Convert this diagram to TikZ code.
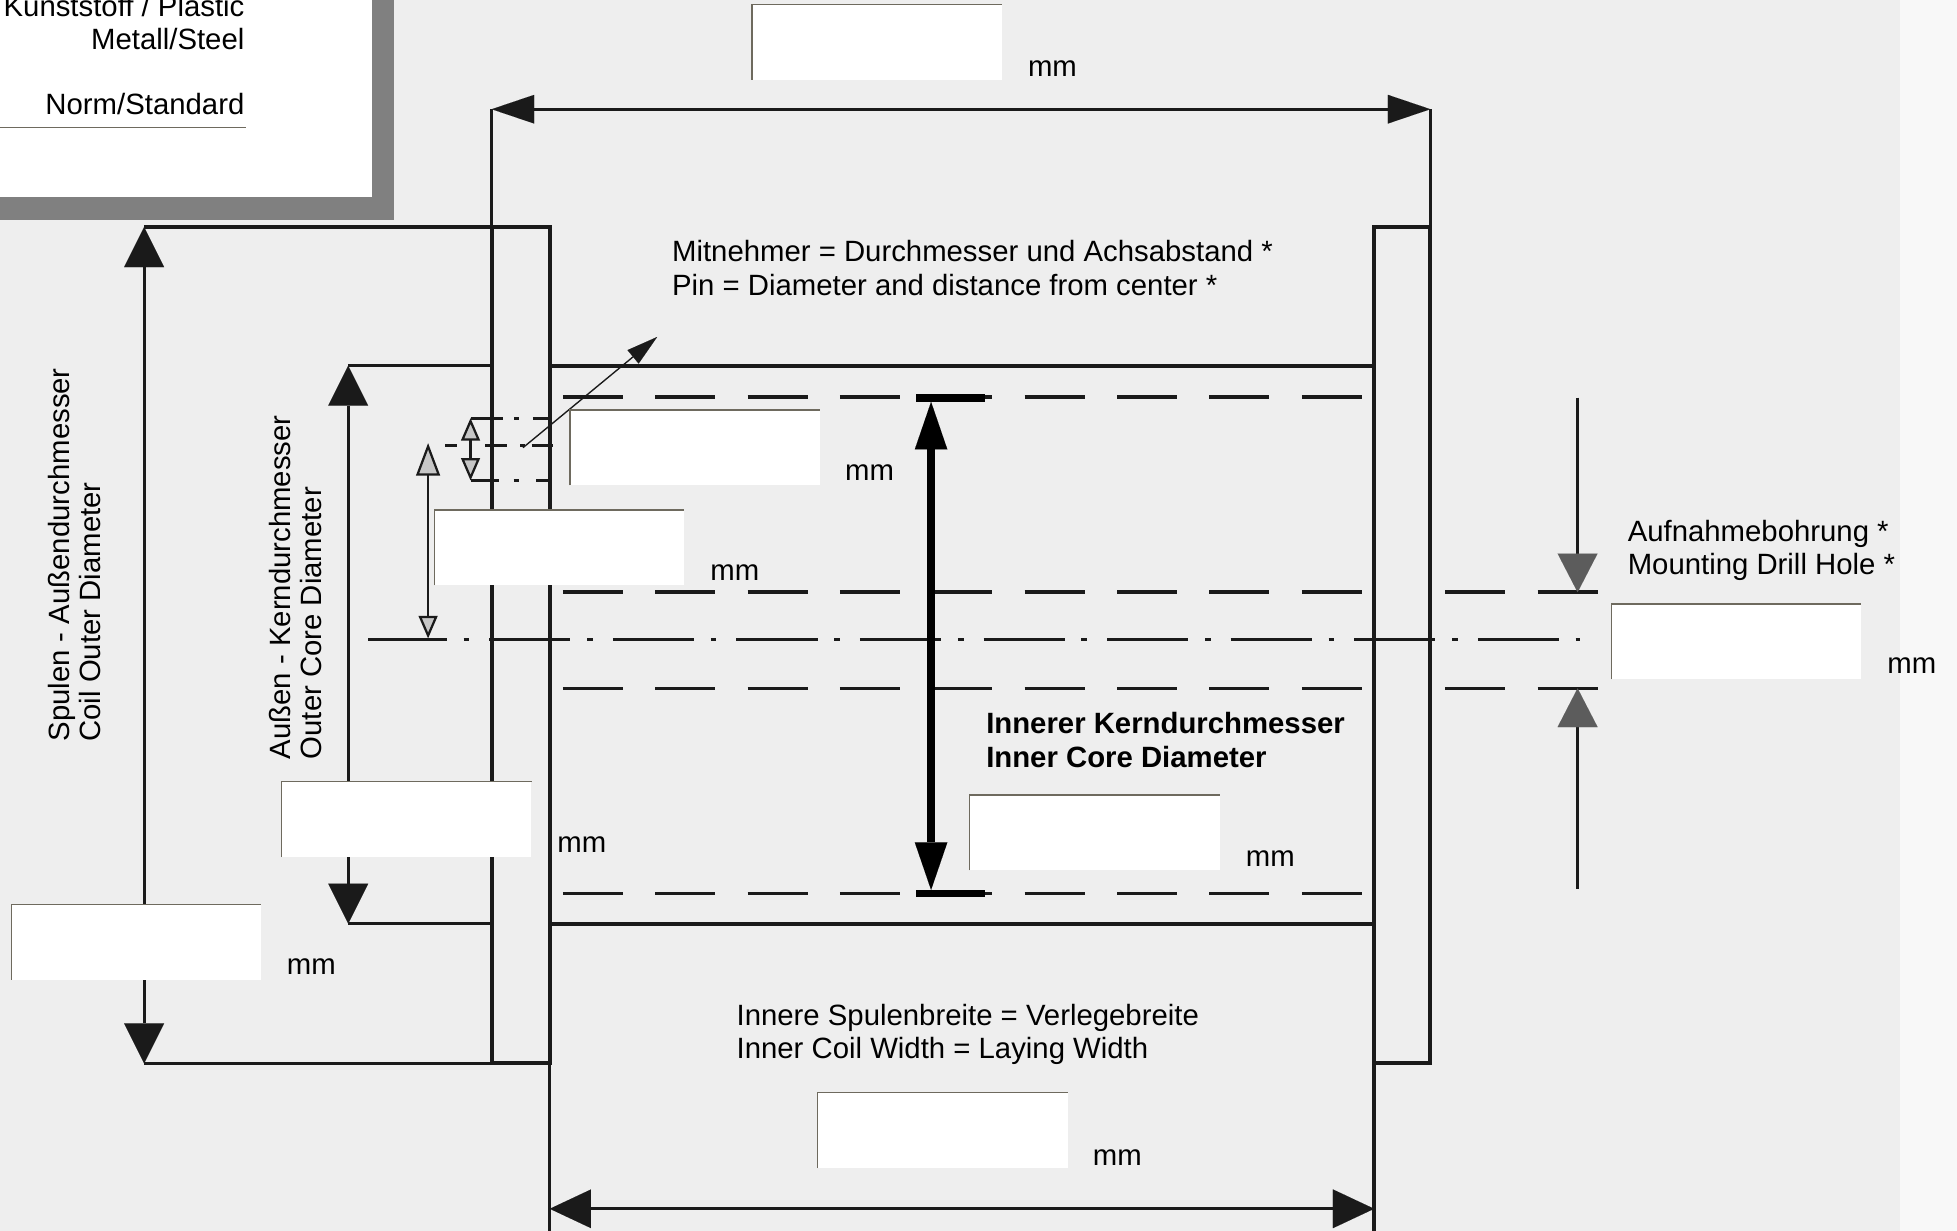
\documentclass[tikz,border=0pt]{standalone}
\usepackage{fontspec}
\setmainfont{Liberation Sans}
\usetikzlibrary{arrows.meta}
\definecolor{paper}{HTML}{EEEEEE}
\definecolor{paperlight}{HTML}{F8F8F8}
\definecolor{ink}{HTML}{1A1A1A}
\definecolor{shadowgray}{HTML}{808080}
\definecolor{edgegray}{HTML}{6E6A5E}
\definecolor{halftone}{HTML}{5C5C5C}
\newcommand\basefont{\fontsize{23.5}{26}\selectfont}
\tikzset{
  bigtip/.tip={Triangle[length=32pt,width=32pt,line width=0.01pt]},
  toptip/.tip={Triangle[length=34pt,width=23pt,line width=0.01pt]},
  bottip/.tip={Triangle[length=33pt,width=31pt,line width=0.01pt]},
  coretip/.tip={Triangle[length=38pt,width=26pt,line width=0.01pt]},
  holetip/.tip={Triangle[length=31pt,width=32pt,line width=0.01pt,color=halftone]},
  pintip/.tip={Triangle[length=25pt,width=14pt,line width=0.01pt]},
  pinuptip/.tip={Triangle[length=26pt,width=19pt,line width=1.8pt,fill=gray!45]},
  smalltip/.tip={Triangle[length=18pt,width=15pt,line width=1.8pt,fill=gray!45]},
  bodyline/.style={draw=ink,line width=3.2pt},
  extline/.style={draw=ink,line width=2.7pt},
  dimline/.style={draw=ink,line width=2.5pt},
  thinline/.style={draw=ink,line width=2pt},
  hiddenline/.style={draw=ink,line width=2.9pt,dash pattern=on 48pt off 26pt},
  axisline/.style={draw=ink,line width=2.9pt,dash pattern=on 65pt off 13.5pt on 4.5pt off 16pt,dash phase=2pt},
  pinline/.style={draw=ink,line width=2.5pt},
  field/.style={fill=white,inner sep=0pt,minimum width=200pt,minimum height=60pt,anchor=north west},
  fieldedge/.style={draw=edgegray,line width=1pt},
  lbl/.style={anchor=base west,inner sep=0pt,font=\basefont},
  lblr/.style={anchor=base east,inner sep=0pt,font=\basefont},
  boldlbl/.style={anchor=base west,inner sep=0pt,font=\basefont\bfseries},
}
\begin{document}
\begin{tikzpicture}[x=1pt,y=-1pt]
% paper
\fill[paper] (0,0) rectangle (1568,986);
\fill[paperlight] (1522,0) rectangle (1568,986);
\useasboundingbox (0,0) rectangle (1568,986);

% key points
\coordinate (tl) at (394,87.5);
\coordinate (tr) at (1146,87.5);
\coordinate (lfo) at (394,182);
\coordinate (lfi) at (440.5,182);
\coordinate (lfob) at (394,852);
\coordinate (lfib) at (440.5,852);
\coordinate (rfi) at (1101,182);
\coordinate (rfo) at (1146,182);
\coordinate (rfib) at (1101,852);
\coordinate (rfob) at (1146,852);
\coordinate (coiltop) at (115.5,182);
\coordinate (coilbot) at (115.5,852);
\coordinate (oct) at (279,293);
\coordinate (ocb) at (279,740);
\coordinate (ocft) at (394,293);
\coordinate (ocfb) at (394,740);
\coordinate (coretl) at (440.5,293);
\coordinate (coretr) at (1101,293);
\coordinate (corebl) at (440.5,740);
\coordinate (corebr) at (1101,740);
\coordinate (bl) at (440.5,968.5);
\coordinate (br) at (1101,968.5);
\coordinate (blend) at (440.5,986);
\coordinate (brend) at (1101,986);

% flanges
\draw[bodyline] (lfo) rectangle (lfib);
\draw[bodyline] (rfi) rectangle (rfob);
% extension lines
\draw[extline] (tl) -- (lfo);
\draw[extline] (tr) -- (rfo);
\draw[extline] (coiltop) -- (lfo);
\draw[extline] (coilbot) -- (lfob);
\draw[extline] (oct) -- (ocft);
\draw[extline] (ocb) -- (ocfb);
\draw[extline] (lfib) -- (blend);
\draw[extline] (rfib) -- (brend);
% core
\draw[bodyline] (coretl) -- (coretr);
\draw[bodyline] (corebl) -- (corebr);

% dimension arrows
\draw[dimline,{toptip}-{toptip}] (tl) -- (tr);
\draw[dimline,{bigtip}-{bigtip}] (coiltop) -- (coilbot);
\draw[dimline,{bigtip}-{bigtip}] (oct) -- (ocb);
\draw[dimline,{bottip}-{bottip}] (bl) -- (br);

% hidden lines (inner core)
\coordinate (h1a) at (451,318);   \coordinate (h1b) at (1092,318);
\coordinate (h2a) at (451,716);   \coordinate (h2b) at (1092,716);
\coordinate (h3a) at (451,474.5); \coordinate (h3b) at (1092,474.5);
\coordinate (h3c) at (1158,474.5);\coordinate (h3d) at (1280,474.5);
\coordinate (h4a) at (451,551.5); \coordinate (h4b) at (1092,551.5);
\coordinate (h4c) at (1158,551.5);\coordinate (h4d) at (1280,551.5);
\draw[hiddenline] (h1a) -- (h1b);
\draw[hiddenline] (h2a) -- (h2b);
\draw[hiddenline] (h3a) -- (h3b);
\draw[hiddenline] (h3c) -- (h3d);
\draw[hiddenline] (h4a) -- (h4b);
\draw[hiddenline] (h4c) -- (h4d);
% axis
\coordinate (ax1) at (295,512.5);
\coordinate (ax2) at (1266,512.5);
\draw[axisline] (ax1) -- (ax2);

% inner core diameter arrow
\coordinate (ict) at (746,322);
\coordinate (icb) at (746,713);
\coordinate (icbar1a) at (734,319); \coordinate (icbar1b) at (789,319);
\coordinate (icbar2a) at (734,716); \coordinate (icbar2b) at (789,716);
\draw[draw=black,line width=6pt] (icbar1a) -- (icbar1b);
\draw[draw=black,line width=6pt] (icbar2a) -- (icbar2b);
\draw[draw=black,line width=6.4pt,{coretip}-{coretip}] (ict) -- (icb);

% mounting drill hole arrows
\coordinate (mh1) at (1264,318.5);
\coordinate (mh2) at (1264,474.5);
\coordinate (mh3) at (1264,712);
\coordinate (mh4) at (1264,551.5);
\draw[thinline,-{holetip}] (mh1) -- (mh2);
\draw[thinline,-{holetip}] (mh3) -- (mh4);

% pin lines
\draw[pinline] (377,335) -- (403,335);
\draw[pinline] (412,335) -- (416,335);
\draw[pinline] (427,335) -- (440,335);
\draw[pinline] (356.6,357) -- (366,357);
\draw[pinline] (388.6,357) -- (406,357);
\draw[pinline] (417,357) -- (421,357);
\draw[pinline] (426,357) -- (443,357);
\draw[pinline] (377,385) -- (400,385);
\draw[pinline] (411.5,385) -- (415.5,385);
\draw[pinline] (429.5,385) -- (439,385);
\coordinate (ps1) at (377,335);
\coordinate (ps2) at (377,385);
\draw[dimline,line width=2.2pt,{smalltip}-{smalltip}] (ps1) -- (ps2);
\coordinate (pd1) at (343,355);
\coordinate (pd2) at (343,511.5);
\draw[dimline,line width=2.2pt,{pinuptip}-{smalltip}] (pd1) -- (pd2);
\coordinate (lead1) at (419,358.7);
\coordinate (lead2) at (526.5,270);
\draw[draw=ink,line width=1.1pt,-{pintip}] (lead1) -- (lead2);

% top-left legend box
\fill[shadowgray] (0,0) rectangle (316,176);
\fill[white] (0,0) rectangle (298,158);
\node[lblr] (tkunst) at (196,13.4) {Kunststoff / Plastic};
\node[lblr] (tmetall) at (196,40) {Metall/Steel};
\node[lblr] (tnorm) at (196,92) {Norm/Standard};
\coordinate (ul1) at (0,102.3);
\coordinate (ul2) at (197,102.3);
\draw[draw=edgegray,line width=1.3pt] (ul1) -- (ul2);

% input fields
\node[field] (f1) at (602.6,3.5) {};
\node[field] (f2) at (456.7,328.5) {};
\node[field] (f3) at (348,408.7) {};
\node[field] (f4) at (225.5,626.3) {};
\node[field] (f5) at (9,724.6) {};
\node[field] (f6) at (777,637) {};
\node[field] (f7) at (1291,484) {};
\node[field] (f8) at (655.2,875.5) {};
\foreach \f in {f1,f2,f3,f4,f5,f6,f7,f8}{
  \draw[fieldedge] (\f.south west) -- (\f.north west) -- (\f.north east);
}

% mm labels
\node[lbl] (mm1) at (823.5,61.4) {mm};
\node[lbl] (mm2) at (677,385) {mm};
\node[lbl] (mm3) at (569,465) {mm};
\node[lbl] (mm4) at (446.4,683) {mm};
\node[lbl] (mm5) at (229.7,781) {mm};
\node[lbl] (mm6) at (998,694) {mm};
\node[lbl] (mm7) at (1512,540) {mm};
\node[lbl] (mm8) at (875.5,933.5) {mm};

% labels
\node[lbl] (tmit1) at (538.3,209.7) {Mitnehmer = Durchmesser und Achsabstand *};
\node[lbl] (tmit2) at (538.3,236.4) {Pin = Diameter and distance from center *};
\node[lbl] (tauf1) at (1304,434) {Aufnahmebohrung *};
\node[lbl] (tauf2) at (1304,460) {Mounting Drill Hole *};
\node[boldlbl] (tinn1) at (790,588) {Innerer Kerndurchmesser};
\node[boldlbl] (tinn2) at (790,615) {Inner Core Diameter};
\node[lbl] (tspb1) at (590,822) {Innere Spulenbreite = Verlegebreite};
\node[lbl] (tspb2) at (590,848) {Inner Coil Width = Laying Width};
\node[lbl,rotate=90] (tspu1) at (55.4,594.3) {Spulen - Außendurchmesser};
\node[lbl,rotate=90] (tspu2) at (80.5,594.3) {Coil Outer Diameter};
\node[lbl,rotate=90] (taus1) at (232.5,608.5) {Außen - Kerndurchmesser};
\node[lbl,rotate=90] (taus2) at (257.5,608.5) {Outer Core Diameter};
\end{tikzpicture}
\end{document}
